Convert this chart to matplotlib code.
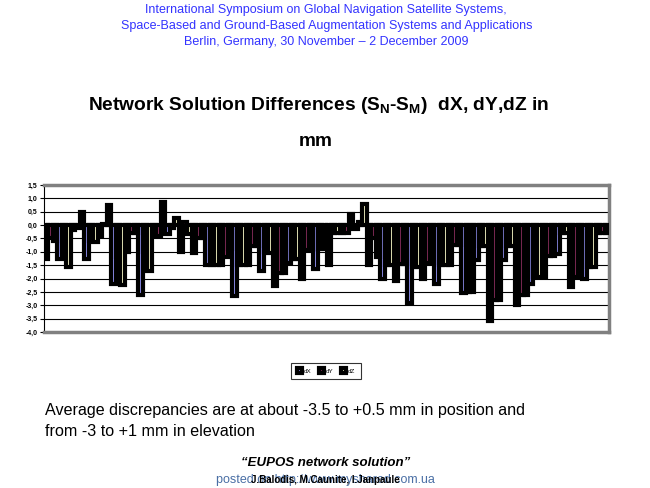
import numpy as np
import matplotlib
matplotlib.use("Agg")
import matplotlib.pyplot as plt
from matplotlib.patches import Patch

plt.rcParams['font.family'] = ['Liberation Sans', 'DejaVu Sans']

# values (mm), one entry per station
dX = [-1.25, -1.25, -0.2, -1.25, -0.4, -2.2, -1.0, -2.6, -0.4, -0.35, -1.0, -1.05,
      -1.5, -1.5, -2.65, -1.5, -1.7, -2.27, -1.4, -2.0, -1.65, -1.5, -0.3, -0.15,
      -1.5, -2.0, -2.1, -2.9, -2.0, -2.2, -1.5, -2.55, -1.3, -3.6, -1.3, -3.0,
      -2.2, -1.95, -1.1, -2.3, -2.0, -0.3]
dY = [-0.5, -1.0, -0.1, -0.6, 0.05, -1.2, -0.3, -1.0, -0.4, -0.1, 0.1, -0.5,
      -1.5, -1.2, -1.5, -0.8, -1.0, -1.8, -1.25, -0.95, -0.9, -0.3, -0.3, 0.1,
      -0.5, -1.5, -1.45, -1.55, -1.4, -1.5, -0.75, -2.5, -0.8, -2.8, -0.8, -2.6,
      -1.95, -1.15, -0.3, -1.95, -1.55, -0.3]
dZ = [-0.6, -1.58, 0.5, -0.65, 0.75, -2.25, -0.3, -1.7, 0.85, 0.27, -0.35, -0.5,
      -1.5, -0.9, -1.5, -0.8, -1.05, -1.8, -1.25, -0.95, -0.9, -0.3, 0.4, 0.8,
      -1.2, -1.5, -1.45, -1.55, -1.4, -1.5, -0.75, -2.5, -0.8, -2.8, -0.8, -2.6,
      -1.95, -1.15, -0.3, -1.95, -1.55, -0.3]
series_names = ["dX", "dY", "dZ"]
series_colors = ["#9999FF", "#993366", "#FFFFCC"]
y_ticks = [1.5, 1.0, 0.5, 0.0, -0.5, -1.0, -1.5, -2.0, -2.5, -3.0, -3.5, -4.0]

fig = plt.figure(figsize=(6.5, 4.88), dpi=100)

# header
blue = "#3333FF"
fig.text(0.502, 1 - 10/488, "International Symposium on Global Navigation Satellite Systems,",
         ha="center", va="center", fontsize=9, color=blue)
fig.text(0.502, 1 - 26/488, "Space-Based and Ground-Based Augmentation Systems and Applications",
         ha="center", va="center", fontsize=9, color=blue)
fig.text(0.502, 1 - 42/488, "Berlin, Germany, 30 November \u2013 2 December 2009",
         ha="center", va="center", fontsize=9, color=blue)

# title
fig.text(0.49, 1 - 106/488, r"Network Solution Differences (S$_\mathregular{N}$-S$_\mathregular{M}$)  dX, dY,dZ in",
         ha="center", va="center", fontsize=13.8, fontweight="bold")
fig.text(0.485, 1 - 142/488, "mm", ha="center", va="center", fontsize=13.8, fontweight="bold")

# chart
ax = fig.add_axes([44/650, 1 - 332/488, (609 - 44)/650, (332 - 185)/488])
n = len(dX)
x = np.arange(n)
w = 1/3
for i, (vals, c) in enumerate(zip([dX, dY, dZ], series_colors)):
    ax.bar(x + (i - 1) * w, vals, width=w, color=c, edgecolor="black",
           linewidth=3.0, zorder=3)

ax.set_xlim(-0.5, n - 0.5)
ax.set_ylim(-4.0, 1.5)
ax.set_yticks(y_ticks)
ax.set_yticklabels([f"{t:.1f}".replace(".", ",") for t in y_ticks],
                   fontsize=5, fontweight="bold")
ax.set_xticks([])
for t in y_ticks[1:-1]:
    ax.axhline(t, color="black", lw=0.8, zorder=1)
ax.spines["left"].set_color("black")
ax.spines["left"].set_linewidth(0.8)
for s in ["top", "bottom", "right"]:
    ax.spines[s].set_color("#808080")
    ax.spines[s].set_linewidth(2.5)
ax.tick_params(axis="y", length=3, width=0.8, pad=1.5)

handles = [Patch(facecolor=c, edgecolor="black", linewidth=3) for c in series_colors]
leg = fig.legend(handles, series_names, loc="center",
                 bbox_to_anchor=(326/650, 1 - 371/488), ncol=3, fontsize=4.5,
                 frameon=True, fancybox=False, handlelength=0.8, handleheight=0.8,
                 handletextpad=0.3, columnspacing=1.2, borderpad=0.9)
leg.get_frame().set_edgecolor("black")
leg.get_frame().set_linewidth(0.8)

# body text
fig.text(45/650, 1 - 411/488, "Average discrepancies are at about -3.5 to +0.5 mm in position and",
         ha="left", va="center", fontsize=11.6)
fig.text(45/650, 1 - 432/488, "from -3 to +1 mm in elevation",
         ha="left", va="center", fontsize=11.6)

fig.text(326/650, 1 - 463/488, "\u201cEUPOS network solution\u201d", ha="center", va="center",
         fontsize=9.5, fontweight="bold", fontstyle="italic")
fig.text(325/650, 1 - 480/488, "posted on http://www.myshared.com.ua", ha="center", va="center",
         fontsize=9, color="#4A6FA5")
fig.text(325/650, 1 - 480/488, "J.Balodis, M.Caunite, I.Janpaule", ha="center", va="center",
         fontsize=7, fontweight="bold")

fig.savefig("out.png", dpi=100)
